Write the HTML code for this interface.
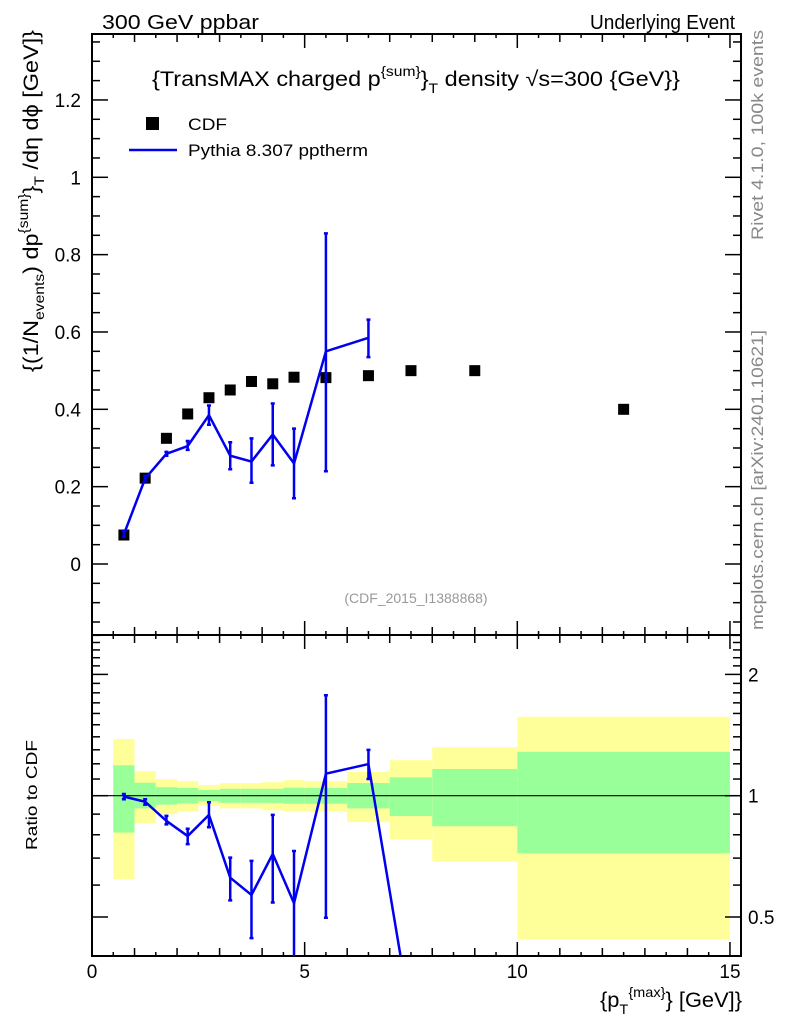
<!DOCTYPE html>
<html><head><meta charset="utf-8"><style>
html,body{margin:0;padding:0;background:#fff;}
svg{display:block;font-family:"Liberation Sans",Arial,sans-serif;}
</style></head><body>
<svg id="c" width="786" height="1024" viewBox="0 0 786 1024" xmlns="http://www.w3.org/2000/svg">
<rect width="786" height="1024" fill="#fff"/>
<text x="102" y="29" font-size="20" textLength="157" lengthAdjust="spacingAndGlyphs">300 GeV ppbar</text>
<text x="735" y="29" font-size="20" text-anchor="end" textLength="145" lengthAdjust="spacingAndGlyphs">Underlying Event</text>
<text x="152" y="86" font-size="21" textLength="528" lengthAdjust="spacingAndGlyphs">{TransMAX charged p<tspan dy="-10" font-size="14">{sum</tspan><tspan dy="0" font-size="14">}</tspan><tspan dy="10" font-size="21">}</tspan><tspan dy="7" font-size="14">T</tspan><tspan dy="-7"> density √s=300 {GeV}}</tspan></text>
<text x="416" y="603" font-size="14" fill="#999" text-anchor="middle">(CDF_2015_I1388868)</text>
<text transform="translate(763,240) rotate(-90)" font-size="17" fill="#888" textLength="210" lengthAdjust="spacingAndGlyphs">Rivet 4.1.0,  100k events</text>
<text transform="translate(763,630) rotate(-90)" font-size="17" fill="#888" textLength="300" lengthAdjust="spacingAndGlyphs">mcplots.cern.ch [arXiv:2401.10621]</text>
<text transform="translate(38,372) rotate(-90)" font-size="21" textLength="342" lengthAdjust="spacingAndGlyphs">{(1/N<tspan dy="6" font-size="14">events</tspan><tspan dy="-6">) dp</tspan><tspan dy="-10" font-size="14">{sum</tspan><tspan dy="0" font-size="14">}</tspan><tspan dy="10">}</tspan><tspan dy="6" font-size="14">T</tspan><tspan dy="-6"> /dη  dϕ [GeV]}</tspan></text>
<text transform="translate(37,850) rotate(-90)" font-size="16" textLength="110" lengthAdjust="spacingAndGlyphs">Ratio to CDF</text>
<text x="600" y="1007" font-size="21" textLength="142" lengthAdjust="spacingAndGlyphs">{p<tspan dy="7" font-size="14">T</tspan><tspan dy="-17" font-size="14">{max</tspan><tspan dy="0" font-size="14">}</tspan><tspan dy="10">} [GeV]}</tspan></text>
<rect x="146" y="117" width="13" height="13" fill="#000"/>
<text x="188" y="130" font-size="17" textLength="39" lengthAdjust="spacingAndGlyphs">CDF</text>
<line x1="129" y1="150" x2="177" y2="150" stroke="#0000ee" stroke-width="2.5"/>
<text x="188" y="156" font-size="17" textLength="180" lengthAdjust="spacingAndGlyphs">Pythia 8.307 pptherm</text>
<g id="g"></g>
</svg>
<script>
const cdfX=[0.75,1.25,1.75,2.25,2.75,3.25,3.75,4.25,4.75,5.5,6.5,7.5,9,12.5];
const cdfY=[0.075,0.222,0.325,0.388,0.43,0.45,0.472,0.466,0.483,0.482,0.487,0.5,0.5,0.4];
const pyX=[0.75,1.25,1.75,2.25,2.75,3.25,3.75,4.25,4.75,5.5,6.5];
const pyY=[0.077,0.221,0.285,0.305,0.385,0.28,0.265,0.335,0.26,0.55,0.585];
const pyLo=[0.07,0.215,0.28,0.295,0.36,0.245,0.21,0.255,0.17,0.24,0.535];
const pyHi=[0.085,0.228,0.29,0.318,0.41,0.315,0.325,0.415,0.35,0.855,0.632];
const rX=[0.75,1.25,1.75,2.25,2.75,3.25,3.75,4.25,4.75,5.5,6.5,7.5];
const rY=[0.995,0.966,0.866,0.794,0.896,0.626,0.567,0.717,0.541,1.134,1.198,0.28];
const rLo=[0.98,0.95,0.849,0.758,0.835,0.55,0.443,0.543,0.35,0.498,1.1,0.28];
const rHi=[1.01,0.98,0.891,0.828,0.963,0.702,0.689,0.896,0.729,1.775,1.299,0.28];
const binEdges=[0.5,1,1.5,2,2.5,3,3.5,4,4.5,5,6,7,8,10,15];
const yelHi=[1.383,1.15,1.10,1.087,1.063,1.075,1.075,1.08,1.093,1.087,1.145,1.225,1.32,1.57];
const yelLo=[0.621,0.855,0.90,0.913,0.944,0.93,0.93,0.92,0.913,0.913,0.86,0.78,0.686,0.44];
const grnHi=[1.19,1.077,1.05,1.045,1.033,1.04,1.04,1.04,1.047,1.045,1.075,1.11,1.165,1.285];
const grnLo=[0.81,0.93,0.95,0.957,0.97,0.96,0.96,0.96,0.955,0.955,0.93,0.89,0.84,0.72];
const xTickLabels=[0,5,10,15];
const yTickLabels=[0,0.2,0.4,0.6,0.8,1,1.2];
const rTickLabels=[0.5,1,2];

const L=92,R=741,T=34,M=635,B=956;
const X=v=>L+v*42.53;
const Y=v=>564-v*386.7;
const RY=v=>795.7-Math.log2(v)*121.3;
const NS='http://www.w3.org/2000/svg';
const g=document.getElementById('g');
function el(t,a,p){const e=document.createElementNS(NS,t);for(const k in a)e.setAttribute(k,a[k]);(p||g).appendChild(e);return e;}
const defs=el('defs',{});
const cp=el('clipPath',{id:'rc'},defs);el('rect',{x:L,y:M,width:R-L,height:B-M},cp);
const cp2=el('clipPath',{id:'mc'},defs);el('rect',{x:L,y:T,width:R-L,height:M-T},cp2);

const bands=el('g',{'clip-path':'url(#rc)'});


for(let i=0;i<yelHi.length;i++){
 const x0=X(binEdges[i]),x1=X(binEdges[i+1]);
 const y=el('rect',{x:x0,y:RY(yelHi[i]),width:x1-x0,height:RY(yelLo[i])-RY(yelHi[i]),fill:'#ffff99'},bands);
 
 
 const gr=el('rect',{x:x0,y:RY(grnHi[i]),width:x1-x0,height:RY(grnLo[i])-RY(grnHi[i]),fill:'#99ff99'},bands);
 
 
}
const one=el('line',{x1:L,x2:R,y1:RY(1),y2:RY(1),stroke:'#000','stroke-width':1.2});



for(const [y0,y1,n] of [[T,M,'main-frame'],[M,B,'ratio-frame']]){
 const f=el('rect',{x:L,y:y0,width:R-L,height:y1-y0,fill:'none',stroke:'#000','stroke-width':2});
 
 
}
const tk=el('g',{stroke:'#000','stroke-width':1.5});


for(let v=0;v<=15.2;v+=0.5){
 const len=(v%5===0)?14:(v%1===0?8:4);const x=X(v);
 for(const [y,d] of [[T,1],[M,-1],[M,1],[B,-1]]) el('line',{x1:x,x2:x,y1:y,y2:y+d*len},tk);
}
for(let i=-3;i<=27;i++){const v=i*0.05;const y=Y(v);if(y<T||y>M)continue;const len=(i%4===0)?16:8;
 el('line',{x1:L,x2:L+len,y1:y,y2:y},tk);el('line',{x1:R,x2:R-len,y1:y,y2:y},tk);}
const rt=[0.4,0.5,0.6,0.7,0.8,0.9,1,1.1,1.2,1.3,1.4,1.5,1.6,1.7,1.8,1.9,2,2.1,2.2,2.3,2.4,2.5];
for(const v of rt){const y=RY(v);if(y<M||y>B)continue;const len=rTickLabels.includes(v)?16:8;
 el('line',{x1:L,x2:L+len,y1:y,y2:y},tk);el('line',{x1:R,x2:R-len,y1:y,y2:y},tk);}
for(const v of xTickLabels){const t=el('text',{x:X(v),y:978,'font-size':19,'text-anchor':'middle'});t.textContent=v;
 
 }
for(const v of yTickLabels){const t=el('text',{x:81,y:Y(v)+7,'font-size':19,'text-anchor':'end'});t.textContent=v;
 
 }
for(const v of rTickLabels){const t=el('text',{x:748,y:RY(v)+7,'font-size':19});t.textContent=v;
 
 }

for(let i=0;i<cdfX.length;i++){const r=el('rect',{x:X(cdfX[i])-5.5,y:Y(cdfY[i])-5.5,width:11,height:11,fill:'#000'});
 
 }
const pm=el('g',{stroke:'#0000ee',fill:'none','clip-path':'url(#mc)'});


const pl=el('polyline',{points:pyX.map((x,i)=>X(x)+','+Y(pyY[i])).join(' '),'stroke-width':2.5},pm);


for(let i=0;i<pyX.length;i++){const x=X(pyX[i]);
 const e=el('path',{d:`M${x},${Y(pyHi[i])}V${Y(pyLo[i])}M${x-2},${Y(pyHi[i])}h4M${x-2},${Y(pyLo[i])}h4`,'stroke-width':2.5},pm);
 
 }
const rm=el('g',{stroke:'#0000ee',fill:'none','clip-path':'url(#rc)'});


const rl=el('polyline',{points:rX.map((x,i)=>X(x)+','+RY(rY[i])).join(' '),'stroke-width':2.5},rm);


for(let i=0;i<rX.length;i++){const x=X(rX[i]);
 const e=el('path',{d:`M${x},${RY(rHi[i])}V${RY(rLo[i])}M${x-2},${RY(rHi[i])}h4M${x-2},${RY(rLo[i])}h4`,'stroke-width':2.5},rm);
 
 }
</script>
</body></html>
